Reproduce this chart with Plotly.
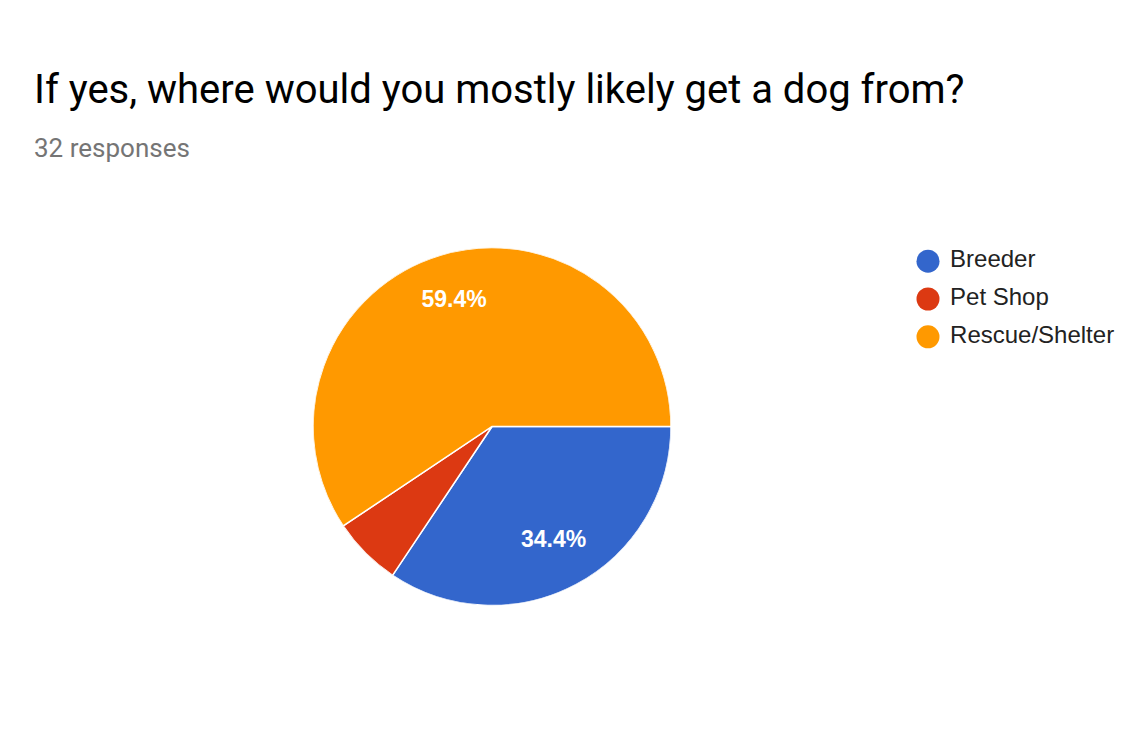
"""Google Forms style pie: where respondents would get a dog from."""

import plotly.graph_objects as go

W, H = 1139, 753
OFF = 8  # the page body adds an 8px margin

categories = ["Breeder", "Pet Shop", "Rescue/Shelter"]
counts = [11, 2, 19]
colors = ["#3366CC", "#DC3912", "#FF9900"]

title_text = "If yes, where would you mostly likely get a dog from?"
subtitle_text = f"{sum(counts)} responses"

total = sum(counts)
shares = [c / total for c in counts]

# slice bisectors and widths in degrees, clockwise from 3 o'clock
mid_theta, widths = [], []
start = 0.0
for s in shares:
    mid_theta.append((start + s / 2) * 360)
    widths.append(s * 360)
    start += s

# Google hides the label on small slices
label_theta = [t for t, s in zip(mid_theta, shares) if s >= 0.1]
label_text = [f"{s * 100:.1f}%" for s in shares if s >= 0.1]


def px(x):
    return (x - OFF) / W


def py(y):
    return 1 - (y - OFF) / H


pie_domain = dict(x=[px(313), px(671)], y=[py(606), py(247)])

fig = go.Figure()

# pie slices as polar wedges so the labels can sit on top of them
fig.add_trace(go.Barpolar(
    r=[1] * len(categories),
    theta=mid_theta,
    width=widths,
    marker=dict(color=colors, line=dict(color="white", width=1.5)),
    customdata=[f"{s * 100:.1f}%" for s in shares],
    hovertext=categories,
    hovertemplate="%{hovertext}: %{customdata}<extra></extra>",
    showlegend=False,
))

fig.add_trace(go.Scatterpolar(
    r=[0.73] * len(label_theta),
    theta=label_theta,
    mode="text",
    text=label_text,
    textfont=dict(family="Liberation Sans, Arial", size=23, color="white", weight="bold"),
    hoverinfo="skip",
    showlegend=False,
    cliponaxis=False,
))

# legend drawn as a marker column so the keys are circles
fig.add_trace(go.Scatter(
    x=[0] * len(categories),
    y=categories,
    mode="markers+text",
    marker=dict(color=colors, size=23),
    text=["\u00a0" + c for c in categories],
    textposition="middle right",
    textfont=dict(family="Liberation Sans, Arial", size=24, color="#222222"),
    hoverinfo="skip",
    showlegend=False,
    cliponaxis=False,
))

fig.update_layout(
    width=W,
    height=H,
    margin=dict(l=0, r=0, t=0, b=0),
    paper_bgcolor="white",
    plot_bgcolor="white",
    showlegend=False,
    polar=dict(
        domain=pie_domain,
        bgcolor="rgba(0,0,0,0)",
        bargap=0,
        radialaxis=dict(range=[0, 1], visible=False),
        angularaxis=dict(rotation=0, direction="clockwise", visible=False),
    ),
    xaxis=dict(domain=[px(928), 1], range=[0, 1], visible=False, fixedrange=True),
    yaxis=dict(domain=[py(357), py(241)], type="category", autorange="reversed",
               visible=False, fixedrange=True),
    annotations=[
        dict(text=title_text, x=px(32), y=py(89), xref="paper", yref="paper",
             xanchor="left", yanchor="middle", showarrow=False,
             font=dict(family="Roboto", size=40, color="#000000")),
        dict(text=subtitle_text, x=px(32), y=py(148), xref="paper", yref="paper",
             xanchor="left", yanchor="middle", showarrow=False,
             font=dict(family="Roboto", size=26, color="#757575")),
    ],
)

fig.write_html("out.html")
